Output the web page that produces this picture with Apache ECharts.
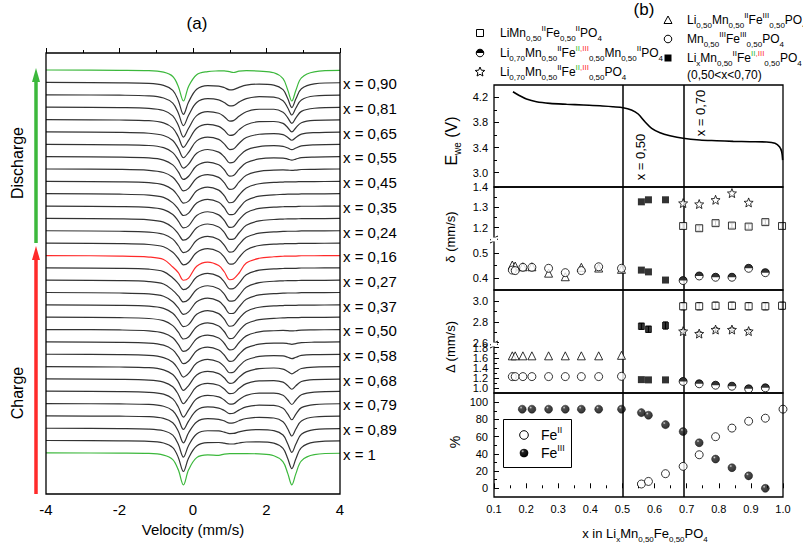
<!DOCTYPE html>
<html><head><meta charset="utf-8">
<script src="https://cdn.jsdelivr.net/npm/echarts@6/dist/echarts.min.js"></script>
<style>html,body{margin:0;padding:0;background:#fff}#c{width:803px;height:544px}</style>
</head><body><div id="c"></div>
<script>
// ---------------- DATA ----------------
// (a) Mössbauer spectra: velocity grid (mm/s) and relative absorption of each spectrum (top to bottom)
const velocity = [-4, -2, -1.2, -0.8, -0.55, -0.4, -0.26, -0.12, 0.1, 0.4, 0.7, 0.85, 1.0, 1.1, 1.25, 1.45, 1.8, 2.2, 2.45, 2.58, 2.69, 2.8, 2.95, 3.3, 4];
const spectra = [
  [0, 0.3, 0.6, 2.2, 6.5, 16.4, 31, 16.4, 4.7, 1.6, 0.9, 0.8, 1.7, 2.5, 1.2, 0.7, 1.1, 2.8, 8.7, 20.2, 31, 20.2, 7.8, 1.8, 0.4],
  [0.1, 0.5, 1.0, 3.0, 8.0, 18.1, 32, 19.7, 6.9, 3.2, 3.7, 5.2, 7.5, 7.2, 5.0, 2.8, 1.7, 2.7, 7.3, 16.5, 25.2, 16.5, 6.4, 1.5, 0.4],
  [0.1, 0.5, 1.2, 3.3, 8.5, 18.2, 31, 20.6, 7.8, 4.0, 5.1, 7.8, 11.2, 10.9, 7.4, 3.9, 2.0, 2.5, 6.0, 13.3, 20.3, 13.3, 5.2, 1.3, 0.4],
  [0.1, 0.6, 1.3, 3.5, 8.9, 18.2, 30, 21.2, 8.6, 4.6, 6.2, 9.6, 14.1, 13.6, 9.3, 4.7, 2.2, 2.2, 5.1, 10.8, 16.4, 10.8, 4.3, 1.2, 0.3],
  [0.2, 0.6, 1.3, 3.5, 8.7, 17.4, 28, 21.0, 8.8, 4.9, 7.0, 10.9, 16.0, 15.5, 10.5, 5.3, 2.3, 2.1, 4.0, 8.3, 12.5, 8.3, 3.3, 1.0, 0.4],
  [0.2, 0.6, 1.5, 3.7, 8.7, 16.6, 26, 20.6, 9.1, 5.3, 7.6, 12.1, 17.8, 17.3, 11.7, 5.8, 2.5, 1.8, 2.9, 5.7, 8.5, 5.7, 2.4, 0.9, 0.3],
  [0.2, 0.7, 1.4, 3.6, 8.5, 15.8, 24, 20.0, 9.2, 5.4, 8.0, 12.6, 18.7, 18.2, 12.3, 6.0, 2.5, 1.6, 2.2, 3.9, 5.6, 3.9, 1.7, 0.7, 0.3],
  [0.2, 0.6, 1.5, 3.6, 8.4, 15.4, 23, 19.8, 9.3, 5.6, 8.3, 13.3, 19.7, 19.1, 12.9, 6.3, 2.5, 1.5, 1.6, 2.6, 3.6, 2.6, 1.2, 0.6, 0.2],
  [0.2, 0.6, 1.5, 3.7, 8.4, 15.0, 22, 19.6, 9.4, 5.8, 8.6, 13.9, 20.6, 20.0, 13.4, 6.5, 2.5, 1.4, 1.1, 1.3, 1.6, 1.3, 0.7, 0.5, 0.2],
  [0.2, 0.7, 1.5, 3.7, 8.6, 15.2, 22, 20.0, 9.7, 5.9, 9.0, 14.5, 21.6, 20.9, 14.1, 6.8, 2.6, 1.3, 0.9, 0.7, 0.7, 0.7, 0.4, 0.4, 0.2],
  [0.2, 0.7, 1.6, 3.9, 9.4, 15.6, 22, 19.6, 9.5, 5.8, 8.8, 14.2, 21.2, 21.0, 14.8, 7.0, 2.6, 1.3, 0.9, 0.7, 0.7, 0.7, 0.4, 0.4, 0.2],
  [0.2, 0.7, 1.5, 3.7, 8.6, 15.2, 22, 20.0, 9.7, 5.9, 9.0, 14.5, 21.6, 20.9, 14.1, 6.8, 2.6, 1.3, 0.9, 0.7, 0.7, 0.7, 0.4, 0.4, 0.2],
  [0.2, 0.7, 1.6, 3.9, 9.4, 15.6, 22, 19.6, 9.5, 5.8, 8.8, 14.2, 21.2, 21.0, 14.8, 7.0, 2.6, 1.3, 0.9, 0.7, 0.7, 0.7, 0.4, 0.4, 0.2],
  [0.2, 0.7, 1.5, 3.7, 8.6, 15.2, 22, 20.0, 9.7, 5.9, 9.0, 14.5, 21.6, 20.9, 14.1, 6.8, 2.6, 1.3, 0.9, 0.7, 0.7, 0.7, 0.4, 0.4, 0.2],
  [0.2, 0.7, 1.6, 3.9, 9.4, 15.6, 22, 19.6, 9.5, 5.8, 8.8, 14.2, 21.2, 21.0, 14.8, 7.0, 2.6, 1.3, 0.9, 0.7, 0.7, 0.7, 0.4, 0.4, 0.2],
  [0.3, 0.8, 1.8, 4.3, 11.8, 17.3, 25, 22.8, 11.0, 6.8, 10.3, 16.5, 24.5, 23.8, 18.0, 7.8, 3.0, 1.5, 1.0, 0.8, 0.8, 0.8, 0.5, 0.5, 0.3],
  [0.2, 0.7, 1.6, 4.0, 10.4, 16.0, 22, 19.6, 9.5, 5.8, 8.8, 14.2, 21.2, 21.0, 15.8, 7.2, 2.6, 1.3, 0.9, 0.7, 0.7, 0.7, 0.4, 0.4, 0.2],
  [0.2, 0.7, 1.6, 4.0, 10.4, 16.0, 22, 19.6, 9.5, 5.8, 8.8, 14.2, 21.2, 21.0, 15.8, 7.2, 2.6, 1.3, 0.9, 0.7, 0.7, 0.7, 0.4, 0.4, 0.2],
  [0.2, 0.7, 1.6, 3.9, 9.4, 15.6, 22, 19.6, 9.5, 5.8, 8.8, 14.2, 21.2, 21.0, 14.8, 7.0, 2.6, 1.3, 0.9, 0.7, 0.7, 0.7, 0.4, 0.4, 0.2],
  [0.2, 0.7, 1.5, 3.7, 8.6, 15.2, 22, 20.0, 9.7, 5.9, 9.0, 14.5, 21.6, 20.9, 14.1, 6.8, 2.6, 1.3, 0.9, 0.7, 0.7, 0.7, 0.4, 0.4, 0.2],
  [0.2, 0.7, 1.5, 3.7, 8.6, 15.2, 22, 20.0, 9.7, 5.9, 9.0, 14.5, 21.6, 20.9, 14.1, 6.8, 2.6, 1.3, 0.9, 0.7, 0.7, 0.7, 0.4, 0.4, 0.2],
  [0.2, 0.6, 1.5, 3.7, 8.4, 15.0, 22, 19.6, 9.4, 5.8, 8.6, 13.9, 20.6, 20.0, 13.4, 6.5, 2.5, 1.4, 1.1, 1.3, 1.6, 1.3, 0.7, 0.5, 0.2],
  [0.2, 0.6, 1.4, 3.5, 8.2, 14.9, 22, 19.3, 9.1, 5.5, 8.3, 13.3, 19.6, 19.0, 12.8, 6.2, 2.5, 1.4, 1.4, 1.9, 2.6, 1.9, 0.9, 0.5, 0.2],
  [0.2, 0.6, 1.4, 3.5, 8.2, 15.2, 23, 19.4, 9.0, 5.3, 7.9, 12.6, 18.7, 18.2, 12.3, 6.0, 2.4, 1.5, 1.9, 3.2, 4.6, 3.2, 1.4, 0.6, 0.3],
  [0.2, 0.6, 1.3, 3.4, 8.1, 15.4, 24, 19.2, 8.6, 5.0, 7.2, 11.4, 16.9, 16.3, 11.0, 5.5, 2.2, 1.6, 2.7, 5.1, 7.5, 5.1, 2.1, 0.7, 0.3],
  [0.2, 0.6, 1.3, 3.3, 8.0, 15.7, 25, 19.0, 8.1, 4.6, 6.5, 10.2, 14.9, 14.5, 9.8, 4.9, 2.1, 1.8, 3.4, 7.0, 10.5, 7.0, 2.8, 0.9, 0.3],
  [0.1, 0.5, 1.2, 3.1, 7.8, 15.9, 26, 18.7, 7.7, 4.2, 5.7, 8.9, 13.0, 12.7, 8.6, 4.3, 2.0, 2.0, 4.1, 8.9, 13.4, 8.9, 3.6, 1.0, 0.3],
  [0.1, 0.5, 1.0, 2.8, 7.3, 15.4, 26, 17.6, 6.8, 3.5, 4.6, 7.0, 10.2, 9.8, 6.7, 3.5, 1.7, 2.0, 4.9, 10.7, 16.3, 10.7, 4.2, 1.1, 0.3],
  [0.1, 0.4, 0.9, 2.6, 6.9, 15.4, 27, 17.0, 6.1, 2.9, 3.5, 5.1, 7.3, 7.1, 4.9, 2.7, 1.5, 2.2, 5.9, 13.2, 20.2, 13.2, 5.1, 1.2, 0.4],
  [0.1, 0.4, 0.9, 2.6, 7.0, 16.2, 29, 17.3, 5.8, 2.6, 2.8, 3.9, 5.4, 5.3, 3.7, 2.2, 1.4, 2.5, 6.9, 15.8, 24.2, 15.8, 6.1, 1.5, 0.4],
  [0, 0.4, 0.8, 2.5, 7.1, 16.9, 31, 17.5, 5.5, 2.2, 2.0, 2.7, 3.5, 3.5, 2.5, 1.5, 1.4, 2.7, 7.9, 18.3, 28.1, 18.3, 7.1, 1.7, 0.4],
  [0, 0.3, 0.6, 2.2, 6.7, 17.0, 32, 17.0, 4.8, 2.1, 2.5, 1.2, 0.7, 0.7, 0.7, 0.7, 1.1, 2.9, 9.0, 20.8, 32, 20.8, 8.0, 1.8, 0.4]
];
const spectrumLabels = ['', 'x = 0,90', '', 'x = 0,81', '', 'x = 0,65', '', 'x = 0,55', '', 'x = 0,45', '', 'x = 0,35', '', 'x = 0,24', '', 'x = 0,16',
  '', 'x = 0,27', '', 'x = 0,37', '', 'x = 0,50', '', 'x = 0,58', '', 'x = 0,68', '', 'x = 0,79', '', 'x = 0,89', '', 'x = 1'];

// (b) voltage curve
const voltX = [0.159, 0.18, 0.201, 0.232, 0.274, 0.326, 0.378, 0.43, 0.471, 0.502, 0.528, 0.549, 0.57, 0.591, 0.617, 0.648, 0.689, 0.741, 0.793, 0.845, 0.897, 0.949, 0.975, 0.989, 0.996, 0.999];
const voltE = [4.289, 4.225, 4.173, 4.13, 4.104, 4.089, 4.077, 4.066, 4.05, 4.035, 3.998, 3.934, 3.812, 3.706, 3.636, 3.589, 3.547, 3.52, 3.509, 3.499, 3.493, 3.488, 3.467, 3.413, 3.334, 3.2];

// x positions of the different phases
const xFe3Phase = [0.157, 0.166, 0.19, 0.218, 0.27, 0.322, 0.372, 0.426, 0.497];
const xMixed = [0.559, 0.581, 0.634];
const xLi70 = [0.689, 0.739, 0.79, 0.841, 0.893, 0.945, 0.997];

// isomer shift δ (mm/s)
const deltaTriangle = [0.452, 0.448, 0.445, 0.445, 0.42, 0.406, 0.443, 0.44, 0.435];
const deltaCircle = [0.432, 0.43, 0.443, 0.443, 0.439, 0.422, 0.43, 0.445, 0.439];
const deltaFilledHigh = [1.327, 1.337, 1.337];
const deltaFilledLow = [0.432, 0.425, 0.393];
const deltaSquare = [1.208, 1.197, 1.222, 1.21, 1.205, 1.227, 1.208];
const deltaStar = [1.321, 1.316, 1.337, 1.37, 1.324];
const deltaHalf = [0.391, 0.409, 0.404, 0.404, 0.439, 0.422];
const deltaSquareErr = [0.012, 0.012, 0.012, 0.012, 0.012, 0.012, 0.012];

// quadrupole splitting Δ (mm/s)
const quadTriangle = [1.64, 1.64, 1.64, 1.64, 1.64, 1.64, 1.64, 1.64, 1.65];
const quadCircle = [1.23, 1.23, 1.23, 1.23, 1.23, 1.23, 1.23, 1.23, 1.235];
const quadFilledHigh = [2.757, 2.728, 2.764];
const quadFilledLow = [1.17, 1.165, 1.165];
const quadSquare = [2.95, 2.95, 2.955, 2.955, 2.95, 2.95, 2.955];
const quadStar = [2.71, 2.686, 2.725, 2.725, 2.71];
const quadHalf = [1.134, 1.088, 1.06, 1.04, 0.988, 1.008];
const quadSquareErr = [0.035, 0.035, 0.035, 0.035, 0.035, 0.035, 0.035];
const quadFilledErr = [0.03, 0.03, 0.035];
const quadStarErr = [0.015, 0.015, 0.015, 0.015, 0.015];

// Fe populations (%)
const fe3X = [0.188, 0.218, 0.27, 0.322, 0.372, 0.426, 0.497, 0.559, 0.581, 0.634, 0.689, 0.739, 0.79, 0.841, 0.893, 0.945];
const fe3Pct = [92, 92, 92, 92, 92, 92, 92, 88, 85, 74, 66, 53, 34, 24, 14.5, 0];
const fe2X = [0.559, 0.581, 0.634, 0.689, 0.739, 0.79, 0.841, 0.893, 0.945, 1.0];
const fe2Pct = [5, 8, 17, 25.5, 39, 60, 70, 78, 81.5, 92];

// tick labels
const eTicks = [3.0, 3.4, 3.8, 4.2];
const deltaHighTicks = [1.2, 1.3, 1.4];
const deltaLowTicks = [0.4, 0.5];
const quadHighTicks = [2.6, 2.8, 3.0];
const quadLowTicks = [1.0, 1.2, 1.4, 1.6, 1.8];
const pctTicks = [0, 20, 40, 60, 80, 100];
const markerLines = [0.5, 0.69];

// ---------------- LAYOUT ----------------
const FONT = '"Liberation Sans", Arial, Helvetica, sans-serif';
const A = {left: 46, top: 53, width: 294, height: 441};
const TRACE_TOP = 17, TRACE_GAP = 12.35;
const BL = 494, BW = 289;
const P = [
  {top: 85, h: 102, min: 2.772, max: 4.396, major: eTicks, minor: [3.2, 3.6, 4.0], fmt: v => v.toFixed(1)},
  {top: 187, h: 53, min: 1.139, max: 1.4, major: deltaHighTicks, minor: [1.15, 1.25, 1.35], fmt: v => v.toFixed(1)},
  {top: 240, h: 50, min: 0.354, max: 0.55, major: deltaLowTicks, minor: [0.45], fmt: v => v.toFixed(1)},
  {top: 290, h: 55, min: 2.576, max: 3.107, major: quadHighTicks, minor: [2.7, 2.9], fmt: v => v.toFixed(1)},
  {top: 345, h: 48, min: 0.906, max: 1.854, major: quadLowTicks, minor: [1.1, 1.3, 1.5, 1.7], fmt: v => v.toFixed(1)},
  {top: 393, h: 104, min: -10.1, max: 110.8, major: pctTicks, minor: [10, 30, 50, 70, 90], fmt: v => String(v)}
];

const GREEN = '#3cb83c', RED = '#ff2a2a', DARK = '#333';

const grids = [{left: A.left, top: A.top, width: A.width, height: A.height}];
const xAxes = [{
  gridIndex: 0, type: 'value', min: -4, max: 4, interval: 2,
  axisLine: {show: false}, splitLine: {show: false},
  axisTick: {inside: true, length: 5, lineStyle: {color: '#000'}},
  minorTick: {show: true, splitNumber: 2, length: 3, lineStyle: {color: '#000'}},
  minorSplitLine: {show: false},
  axisLabel: {fontSize: 15, color: '#000', fontFamily: FONT, margin: 8},
  name: 'Velocity (mm/s)', nameLocation: 'middle', nameGap: 27,
  nameTextStyle: {fontSize: 15, color: '#000', fontFamily: FONT}
}];
const yAxes = [{gridIndex: 0, type: 'value', min: 0, max: A.height, inverse: true, show: false}];

P.forEach((p, k) => {
  const gi = k + 1;
  grids.push({left: BL, top: p.top, width: BW, height: p.h});
  const last = k === P.length - 1;
  xAxes.push(last ? {
    gridIndex: gi, type: 'value', min: 0.1, max: 1.0, interval: 0.1,
    axisLine: {show: false}, splitLine: {show: false},
    axisTick: {inside: true, length: 5, lineStyle: {color: '#000'}},
    minorTick: {show: true, splitNumber: 2, length: 3, lineStyle: {color: '#000'}},
    minorSplitLine: {show: false},
    axisLabel: {fontSize: 11, color: '#000', fontFamily: FONT, margin: 6, formatter: v => v.toFixed(1)}
  } : {gridIndex: gi, type: 'value', min: 0.1, max: 1.0, show: false});
  yAxes.push({
    gridIndex: gi, type: 'value', position: 'left', min: p.min, max: p.max,
    axisLine: {show: false}, splitLine: {show: false},
    axisTick: {show: true, inside: true, length: 5, customValues: p.major.slice(), lineStyle: {color: '#000'}},
    axisLabel: {show: false}
  });
  yAxes.push({
    gridIndex: gi, type: 'value', position: 'left', min: p.min, max: p.max,
    axisLine: {show: false}, splitLine: {show: false},
    axisTick: {show: true, inside: true, length: 3, customValues: p.minor.slice(), lineStyle: {color: '#000'}},
    axisLabel: {show: false}
  });
});
const yMain = k => 2 * k + 1;

const series = [];
spectra.forEach((arr, i) => {
  const color = (i === 0 || i === spectra.length - 1) ? GREEN : (i === 15 ? RED : DARK);
  series.push({
    type: 'line', xAxisIndex: 0, yAxisIndex: 0, silent: true, showSymbol: false, smooth: 0.35,
    lineStyle: {color, width: 1.2}, z: 2,
    data: velocity.map((v, j) => [v, TRACE_TOP + i * TRACE_GAP + arr[j]])
  });
});

const vLines = {silent: true, symbol: 'none', label: {show: false}, animation: false,
  lineStyle: {color: '#000', width: 1.5, type: 'solid'}, data: markerLines.map(x => ({xAxis: x}))};
const zip = (xs, ys) => xs.map((x, i) => [x, ys[i]]);
const zip3 = (xs, ys, es) => xs.map((x, i) => [x, ys[i], es[i]]);

const starPath = 'path://M12,1 L14.9,8.6 23,9.2 16.8,14.4 18.8,22.3 12,18 5.2,22.3 7.2,14.4 1,9.2 9.1,8.6 Z';
const halfPath = 'path://M0,10 A10,10 0 0 1 20,10 Z';
const openStyle = {color: '#fff', borderColor: '#000', borderWidth: 1};
const sphere = {type: 'radial', x: 0.35, y: 0.3, r: 0.7, colorStops: [{offset: 0, color: '#cfcfcf'}, {offset: 0.25, color: '#222'}, {offset: 1, color: '#000'}]};

function sc(k, data, symbol, size, style, extra) {
  return Object.assign({type: 'scatter', xAxisIndex: k + 1, yAxisIndex: yMain(k), data, symbol, symbolSize: size,
    itemStyle: style, z: 5, silent: true, animation: false}, extra || {});
}
function errItem(params, api) {
  const x = api.value(0), y = api.value(1), e = api.value(2);
  const a = api.coord([x, y + e]), b = api.coord([x, y - e]);
  const st = {stroke: '#000', lineWidth: 1};
  return {type: 'group', children: [
    {type: 'line', shape: {x1: a[0], y1: a[1], x2: b[0], y2: b[1]}, style: st},
    {type: 'line', shape: {x1: a[0] - 2.5, y1: a[1], x2: a[0] + 2.5, y2: a[1]}, style: st},
    {type: 'line', shape: {x1: b[0] - 2.5, y1: b[1], x2: b[0] + 2.5, y2: b[1]}, style: st}
  ]};
}
function err(k, data) {
  return {type: 'custom', xAxisIndex: k + 1, yAxisIndex: yMain(k), data, renderItem: errItem, z: 4, silent: true,
    encode: {x: 0, y: 1}, animation: false};
}

series.push({type: 'line', xAxisIndex: 1, yAxisIndex: yMain(0), data: zip(voltX, voltE), smooth: 0.3, showSymbol: false,
  lineStyle: {color: '#000', width: 1.6}, silent: true, markLine: vLines, z: 3});
series.push(err(1, zip3(xLi70, deltaSquare, deltaSquareErr)));
series.push(sc(1, zip(xLi70, deltaSquare), 'rect', 7, openStyle, {markLine: vLines}));
series.push(sc(1, zip(xLi70.slice(0, 5), deltaStar), starPath, 9, openStyle));
series.push(sc(1, zip(xMixed, deltaFilledHigh), 'rect', 7, {color: '#000'}));
series.push(sc(2, zip(xFe3Phase, deltaTriangle), 'triangle', 8, openStyle, {markLine: vLines}));
series.push(sc(2, zip(xFe3Phase, deltaCircle), 'circle', 8, openStyle));
series.push(sc(2, zip(xMixed, deltaFilledLow), 'rect', 7, {color: '#000'}));
series.push(sc(2, zip(xLi70.slice(0, 6), deltaHalf), 'circle', 8, openStyle));
series.push(sc(2, zip(xLi70.slice(0, 6), deltaHalf), halfPath, [8, 4], {color: '#000'}, {symbolOffset: [0, -2], z: 6}));
series.push(err(3, zip3(xLi70, quadSquare, quadSquareErr)));
series.push(err(3, zip3(xMixed, quadFilledHigh, quadFilledErr)));
series.push(err(3, zip3(xLi70.slice(0, 5), quadStar, quadStarErr)));
series.push(sc(3, zip(xLi70, quadSquare), 'rect', 7, openStyle, {markLine: vLines}));
series.push(sc(3, zip(xLi70.slice(0, 5), quadStar), starPath, 9, openStyle));
series.push(sc(3, zip(xMixed, quadFilledHigh), 'rect', 7, {color: '#000'}));
series.push(sc(4, zip(xFe3Phase, quadTriangle), 'triangle', 8, openStyle, {markLine: vLines}));
series.push(sc(4, zip(xFe3Phase, quadCircle), 'circle', 8, openStyle));
series.push(sc(4, zip(xMixed, quadFilledLow), 'rect', 7, {color: '#000'}));
series.push(sc(4, zip(xLi70.slice(0, 6), quadHalf), 'circle', 8, openStyle));
series.push(sc(4, zip(xLi70.slice(0, 6), quadHalf), halfPath, [8, 4], {color: '#000'}, {symbolOffset: [0, -2], z: 6}));
series.push(sc(5, zip(fe2X, fe2Pct), 'circle', 8, openStyle, {markLine: vLines}));
series.push(sc(5, zip(fe3X, fe3Pct), 'circle', 8, {color: sphere, borderColor: '#000', borderWidth: 0.5}));

const chart = echarts.init(document.getElementById('c'), null, {renderer: 'svg'});
chart.setOption({
  backgroundColor: '#fff',
  animation: false,
  grid: grids,
  xAxis: xAxes,
  yAxis: yAxes,
  series
});

// ---------------- GRAPHICS ----------------
const RICH = {
  b: {fontSize: 8, fontFamily: FONT, fill: '#000', verticalAlign: 'bottom', lineHeight: 9},
  p: {fontSize: 8, fontFamily: FONT, fill: '#000', verticalAlign: 'top', lineHeight: 9},
  pg: {fontSize: 8, fontFamily: FONT, fill: '#33bb33', verticalAlign: 'top', lineHeight: 9},
  pr: {fontSize: 8, fontFamily: FONT, fill: '#ff3333', verticalAlign: 'top', lineHeight: 9}
};
function txt(x, y, text, size, opts) {
  opts = opts || {};
  const style = {text, fontSize: size, fontFamily: FONT, fill: opts.fill || '#000',
    align: opts.align || 'left', verticalAlign: 'middle', textAlign: opts.align || 'left', textVerticalAlign: 'middle',
    lineHeight: opts.lh || size + 6};
  if (opts.rich !== false) style.rich = opts.rich || RICH;
  return {type: 'text', x, y, rotation: opts.rot || 0, z: 20, silent: true, style};
}
const frame = (x, y, w, h) => ({type: 'rect', shape: {x, y, width: w, height: h}, style: {fill: 'none', stroke: '#000', lineWidth: 1.3}, z: 15, silent: true});
const ln = (x1, y1, x2, y2, color, w) => ({type: 'line', shape: {x1, y1, x2, y2}, style: {stroke: color, lineWidth: w}, z: 16, silent: true});
const poly = (pts, fill, stroke) => ({type: 'polygon', shape: {points: pts}, style: {fill, stroke: stroke || 'none', lineWidth: 1}, z: 16, silent: true});
function starPts(cx, cy, R) {
  const pts = [];
  for (let i = 0; i < 10; i++) {
    const r = i % 2 ? R * 0.45 : R;
    const a = -Math.PI / 2 + i * Math.PI / 5;
    pts.push([cx + r * Math.cos(a), cy + r * Math.sin(a)]);
  }
  return pts;
}

const graphics = [];
graphics.push(frame(A.left, A.top, A.width, A.height));
graphics.push(frame(BL, 85, BW, 102), frame(BL, 187, BW, 103), frame(BL, 290, BW, 103), frame(BL, 393, BW, 104));
const tickLists = [eTicks, deltaHighTicks, deltaLowTicks, quadHighTicks, quadLowTicks, pctTicks];
P.forEach((p, k) => {
  tickLists[k].forEach(v => {
    const py = chart.convertToPixel({yAxisIndex: yMain(k)}, v);
    graphics.push(txt(BL - 6, py, p.fmt(v), 11, {align: 'right', lh: 12, rich: false}));
  });
});
graphics.push({type: 'rect', shape: {x: 491, y: 237.5, width: 6, height: 4}, style: {fill: '#fff'}, z: 17, silent: true});
graphics.push(ln(490, 240, 498, 236, '#000', 1), ln(490, 243, 498, 239, '#000', 1));
graphics.push({type: 'rect', shape: {x: 491, y: 342.5, width: 6, height: 4}, style: {fill: '#fff'}, z: 17, silent: true});
graphics.push(ln(490, 345, 498, 341, '#000', 1), ln(490, 348, 498, 344, '#000', 1));

graphics.push(ln(36, 243, 36, 80, GREEN, 3.5), poly([[32, 82], [40, 82], [36, 68]], GREEN));
graphics.push(ln(36, 494, 36, 258, RED, 3.5), poly([[32, 260], [40, 260], [36, 246]], RED));
graphics.push(txt(17, 163, 'Discharge', 16, {rot: Math.PI / 2, align: 'center'}));
graphics.push(txt(17, 393, 'Charge', 16, {rot: Math.PI / 2, align: 'center'}));
graphics.push(txt(197, 23, '(a)', 17, {align: 'center'}));
graphics.push(txt(644, 9, '(b)', 17, {align: 'center'}));

spectrumLabels.forEach((s, i) => {
  if (s) graphics.push(txt(343, A.top + TRACE_TOP + i * TRACE_GAP + 1.5, s, 15));
});

const LH = 18;
graphics.push(poly([[664, 23.5], [672, 23.5], [668, 16]], '#fff', '#000'));
graphics.push(txt(687, 20, 'Li{b|0,50}Mn{b|0,50}{p|II}Fe{p|III}{b|0,50}PO{b|4}', 12, {lh: LH}));
graphics.push({type: 'circle', shape: {cx: 668, cy: 39, r: 3.8}, style: {fill: '#fff', stroke: '#000', lineWidth: 1}, z: 16});
graphics.push(txt(687, 39, 'Mn{b|0,50}{p|III}Fe{p|III}{b|0,50}PO{b|4}', 12, {lh: LH}));
graphics.push({type: 'rect', shape: {x: 664.5, y: 54.5, width: 7, height: 7}, style: {fill: '#000'}, z: 16});
graphics.push(txt(687, 58, 'Li{b|x}Mn{b|0,50}{p|II}Fe{pg|II}{pr|,III}{b|0,50}PO{b|4}', 12, {lh: LH}));
graphics.push(txt(687, 75, '(0,50<x<0,70)', 12, {lh: LH}));
graphics.push({type: 'rect', shape: {x: 476.5, y: 29.5, width: 7, height: 7}, style: {fill: '#fff', stroke: '#000', lineWidth: 1}, z: 16});
graphics.push(txt(500, 33, 'LiMn{b|0,50}{p|II}Fe{b|0,50}{p|II}PO{b|4}', 12, {lh: LH}));
graphics.push({type: 'circle', shape: {cx: 480, cy: 53, r: 3.8}, style: {fill: '#fff', stroke: '#000', lineWidth: 1}, z: 16});
graphics.push({type: 'sector', shape: {cx: 480, cy: 53, r: 3.8, r0: 0, startAngle: Math.PI, endAngle: 2 * Math.PI}, style: {fill: '#000'}, z: 17});
graphics.push(txt(500, 53, 'Li{b|0,70}Mn{b|0,50}{p|II}Fe{pg|II}{pr|,III}{b|0,50}Mn{b|0,50}{p|II}PO{b|4}', 12, {lh: LH}));
graphics.push(poly(starPts(480, 72, 5), '#fff', '#000'));
graphics.push(txt(500, 72, 'Li{b|0,70}Mn{b|0,50}{p|II}Fe{pg|II}{pr|,III}{b|0,50}PO{b|4}', 12, {lh: LH}));

graphics.push(txt(640, 157, 'x = 0,50', 13, {rot: Math.PI / 2, align: 'center'}));
graphics.push(txt(700, 113, 'x = 0,70', 13, {rot: Math.PI / 2, align: 'center'}));

const RICH_BIG = {b: {fontSize: 10, fontFamily: FONT, fill: '#000', verticalAlign: 'bottom', lineHeight: 10}};
graphics.push(txt(451, 141, 'E{b|we} (V)', 16, {rot: Math.PI / 2, align: 'center', lh: 22, rich: RICH_BIG}));
graphics.push(txt(450, 237, 'δ (mm/s)', 13, {rot: Math.PI / 2, align: 'center'}));
graphics.push(txt(450, 347, 'Δ (mm/s)', 13, {rot: Math.PI / 2, align: 'center'}));
graphics.push(txt(455, 442, '%', 14, {rot: Math.PI / 2, align: 'center'}));
graphics.push(txt(645, 533, 'x in Li{b|x}Mn{b|0,50}Fe{b|0,50}PO{b|4}', 13, {align: 'center', lh: 20}));

graphics.push({type: 'rect', shape: {x: 503.5, y: 419.5, width: 68, height: 48}, style: {fill: '#fff', stroke: '#000', lineWidth: 1}, z: 14});
graphics.push({type: 'circle', shape: {cx: 524, cy: 435, r: 4.3}, style: {fill: '#fff', stroke: '#000', lineWidth: 1}, z: 16});
graphics.push({type: 'circle', shape: {cx: 524, cy: 453, r: 4.3}, style: {fill: new echarts.graphic.RadialGradient(0.35, 0.3, 0.7, [{offset: 0, color: '#cfcfcf'}, {offset: 0.25, color: '#222'}, {offset: 1, color: '#000'}])}, z: 16});
const RICH_L = {p: {fontSize: 9, fontFamily: FONT, fill: '#000', verticalAlign: 'top', lineHeight: 9}};
graphics.push(txt(541, 435, 'Fe{p|II}', 14, {lh: 20, rich: RICH_L}));
graphics.push(txt(541, 453, 'Fe{p|III}', 14, {lh: 20, rich: RICH_L}));

chart.setOption({graphic: {elements: graphics}});
</script>
</body></html>
